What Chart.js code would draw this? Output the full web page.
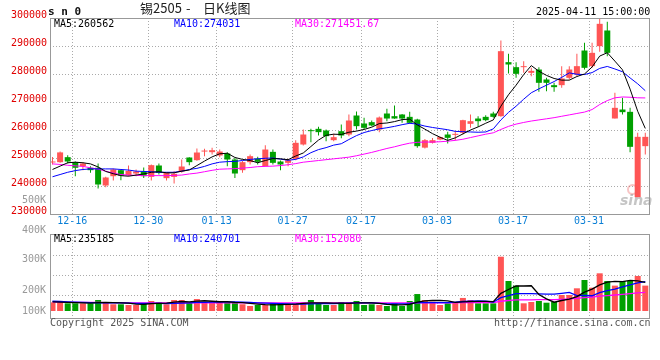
<!DOCTYPE html>
<html lang="zh-CN">
<head>
<meta charset="utf-8">
<title>锡2505 - 日K线图</title>
<script src="https://cdn.jsdelivr.net/npm/chart.js@4.4.1/dist/chart.umd.min.js"></script>
<style>
html,body{margin:0;padding:0;background:#fff;}
#wrap{position:relative;width:660px;height:360px;overflow:hidden;background:#fff;}
#wrap canvas{position:absolute;left:0;top:0;}
.t{position:absolute;white-space:pre;font-family:"DejaVu Sans Mono",monospace;font-size:10px;line-height:10px;}
.cjk{font-family:'Noto Sans CJK SC',sans-serif;font-size:13px;line-height:13px;color:#222;}
</style>
</head>
<body>
<div id="wrap">
  <canvas id="priceChart" width="660" height="360"></canvas>
  <canvas id="volChart" width="660" height="360"></canvas>
  <div class="t" style="left:48px;top:6px;font-size:11px;line-height:11px;font-weight:bold;color:#111;">s n 0</div>
  <div class="t cjk" style="left:140px;top:1px;">锡2505</div>
  <div class="t cjk" style="left:186px;top:1px;">-</div>
  <div class="t cjk" style="left:203px;top:1px;">日K线图</div>
  <div class="t" style="left:536px;top:7px;color:#000;">2025-04-11 15:00:00</div>
  <div class="t" style="left:54px;top:19px;color:#000;">MA5:260562</div>
  <div class="t" style="left:174px;top:19px;color:#0000ff;">MA10:274031</div>
  <div class="t" style="left:295px;top:19px;color:#ff00ff;">MA30:271451.67</div>
  <div class="t" style="left:54px;top:234px;color:#000;">MA5:235185</div>
  <div class="t" style="left:174px;top:234px;color:#0000ff;">MA10:240701</div>
  <div class="t" style="left:295px;top:234px;color:#ff00ff;">MA30:152080</div>
  <div class="t" style="left:22px;top:195px;color:#999;">500K</div>
  <div class="t" style="left:22px;top:225px;color:#999;">400K</div>
  <div class="t" style="left:22px;top:254px;color:#999;">300K</div>
  <div class="t" style="left:22px;top:285px;color:#999;">200K</div>
  <div class="t" style="left:22px;top:306px;color:#999;">100K</div>
  <div class="t" style="left:50px;top:318px;color:#555;">Copyright 2025 SINA.COM</div>
  <div class="t" style="left:494px;top:318px;color:#555;">http://finance.sina.com.cn</div>
  <div style="position:absolute;left:627px;top:184px;width:7px;height:7px;border:2px solid rgba(235,90,90,0.35);border-radius:50%;"></div>
  <div class="t" style="left:620px;top:193px;font-family:'DejaVu Sans',sans-serif;font-style:italic;font-weight:bold;font-size:14px;line-height:14px;color:rgba(150,150,150,0.55);">sina</div>
</div>
<script>
// ---- data ----
const dates = ['12-12','12-13','12-16','12-17','12-18','12-19','12-20','12-23','12-24','12-25',
'12-26','12-27','12-30','12-31','01-02','01-03','01-06','01-07','01-08','01-09',
'01-10','01-13','01-14','01-15','01-16','01-17','01-20','01-21','01-22','01-23',
'01-24','01-27','02-05','02-06','02-07','02-10','02-11','02-12','02-13','02-14',
'02-17','02-18','02-19','02-20','02-21','02-24','02-25','02-26','02-27','02-28',
'03-03','03-04','03-05','03-06','03-07','03-10','03-11','03-12','03-13','03-14',
'03-17','03-18','03-19','03-20','03-21','03-24','03-25','03-26','03-27','03-28',
'03-31','04-01','04-02','04-03','04-07','04-08','04-09','04-10','04-11'];
const tickDays = ['12-16','12-30','01-13','01-27','02-17','03-03','03-17','03-31'];
const priceTicks = [230000,240000,250000,260000,270000,280000,290000,300000];

const openP = [248400,248500,250300,248500,247080,246500,246500,240180,243500,245650,
243870,244460,245180,243270,247320,242800,243270,245180,250180,249230,
252300,252080,250890,251610,249460,245650,248510,249820,247080,252200,
248750,248270,249700,254820,259940,260420,259820,256370,259580,258390,
265180,262320,262800,260180,265890,264940,265540,264700,263750,253700,
255420,256600,258390,258270,258990,262200,264100,264700,265890,264940,
284230,282440,282440,280420,281600,278040,276010,276010,278630,279820,
288390,282800,289940,295540,264110,267320,266490,236000,254230];
const highP = [250400,252300,251000,248750,248500,247080,248040,243300,246250,246000,
247320,245900,246600,247680,248040,245000,245300,249460,250300,253400,
253270,253630,253000,252080,250060,248900,251250,250420,254580,253030,
249100,249700,256370,260180,260420,261130,260180,258630,261960,265540,
266610,264350,263390,264800,267560,268750,265700,266490,263990,256800,
257100,257700,259350,259580,263700,265540,264940,265300,266490,291960,
287200,284230,284580,282200,282440,278630,276850,282800,282800,287200,
291130,291130,300000,298630,273270,271490,267920,258990,258990];
const lowP = [247700,248300,248000,243500,245650,244700,239100,239580,241960,242080,
243500,243500,242900,241960,244100,241960,240900,244700,247440,248990,
250650,251250,250300,247080,242900,244700,247680,247680,247000,247680,
245650,247080,249220,254460,255650,258030,256010,256010,257080,257800,
260180,260180,261370,259230,263150,263990,262560,262200,253630,253400,
255200,256370,255180,256250,258390,260770,261130,263150,264340,264700,
280180,278630,280420,279220,273630,273870,273630,275060,278040,279220,
281610,282200,287920,286370,264110,265540,252080,236000,251250];
const closeP = [248700,252000,248750,246500,248040,245650,240540,243040,245900,243750,
245400,245180,243500,247440,244700,244700,244350,246960,248510,251960,
252450,252800,252320,249460,244460,248510,250650,248630,253030,248270,
247680,249220,255420,258390,259580,259230,257800,257440,258030,263390,
261370,260770,261610,264460,264100,264100,264100,262560,254230,256370,
256370,257440,257200,258510,263510,263150,263150,263510,264700,288155,
283390,280060,282680,281130,276850,276850,275300,278390,281610,282800,
282200,287560,297920,287560,267920,266370,253990,257560,257560];

const ma5 = [245900,247100,248300,248500,248300,247900,246800,245200,244400,243700,
243500,243900,244300,244900,245100,244700,244700,245300,245700,247300,
248900,250400,251500,251700,250200,249500,249100,248300,249100,249800,
249700,249400,250700,251800,254100,256400,258100,258500,258400,259200,
259600,260200,261000,262300,262500,263000,263700,263900,261800,260300,
258700,257400,256300,257200,258600,260000,261100,262400,263600,268500,
272600,276000,279800,283000,281000,279500,278400,277800,277800,279100,
280000,282500,286400,287600,284600,281500,274600,266700,260562];
const ma10 = [243300,244100,244900,245500,245900,246100,246100,246100,246100,245900,
245700,245300,245200,245100,244900,244900,244900,245300,245900,246300,
247000,247900,248500,248700,248800,249100,249500,249700,249900,250000,
249600,249200,249500,250400,251900,253000,253700,254600,255100,256600,
258000,259100,259800,260400,260800,261300,261900,262400,262100,261400,
260900,260500,260100,259500,259400,259300,259200,259300,260400,263600,
266300,268500,271000,273300,274700,276000,277300,278800,280400,279900,
279800,280500,282000,282700,281800,280800,278600,276500,274031];
const ma30 = [247900,247700,247400,247200,247000,246500,246000,245300,244600,244100,
243900,243800,243700,243700,243700,243700,243800,243900,244300,244600,
245100,245600,246000,246100,246200,246400,246600,246900,247000,247100,
247300,247600,248000,248500,248800,249100,249400,249700,250000,250300,
250800,251400,252000,252700,253400,254000,254700,255300,255600,255700,
255700,255800,256000,256300,256700,257300,257900,258500,259000,260200,
261300,262100,262700,263200,263600,264000,264400,264900,265400,265900,
266400,267300,269100,270500,271500,271800,271700,271500,271451.67];

// volume, in thousands
const volK = [71,71,63,63,63,63,90,71,55,55,
49,49,63,82,71,55,90,90,71,98,
71,71,71,71,71,55,41,49,49,63,
63,49,63,71,90,63,49,49,74,74,
82,49,55,49,41,63,41,82,139,90,
76,49,63,74,107,90,63,63,63,445,
246,208,63,74,82,68,74,131,131,186,
254,191,309,246,208,246,246,287,208];
const vma5K = [74,73,70,68,66,65,68,70,68,67,
64,56,54,60,63,64,72,78,75,81,
84,80,76,76,71,68,62,57,53,51,
53,55,57,62,67,67,67,64,65,62,
66,66,67,62,55,51,50,55,73,83,
86,87,83,70,74,77,79,79,77,145,
176,205,205,207,135,99,72,86,97,118,
155,179,214,237,242,240,251,247,235.185];
const vma10K = [80,78,75,72,70,68,67,67,66,66,
64,63,62,62,62,61,62,64,66,70,
71,72,73,74,75,73,70,67,65,63,
60,58,57,57,59,60,61,61,63,65,
66,66,66,63,59,59,58,61,68,69,
69,69,69,72,78,81,83,81,74,109,
126,142,142,142,140,138,139,145,152,126,
127,125,150,167,180,198,215,230,240.701];
const vma30K = [72,72,71,71,70,70,70,69,69,68,
67,67,67,66,66,66,66,66,66,66,
66,66,66,66,66,66,66,66,66,66,
66,66,66,66,66,66,66,66,66,66,
66,66,66,66,66,66,66,66,67,67,
67,67,67,67,68,68,68,68,68,80,
86,91,91,92,93,93,94,96,99,103,
109,114,122,126,131,137,142,148,152.08];

// ---- chart building ----
const N = dates.length;
const idx = dates.map((_, i) => i);
const UP = '#ff5555', DOWN = '#00a000';
const colors = idx.map(i => closeP[i] >= openP[i] ? UP : DOWN);
const tickIdx = tickDays.map(d => dates.indexOf(d));
const X_MIN = -0.33, X_MAX = N - 1 + 0.62, GRID_SHIFT = 0.6;
const MONO = {family: 'DejaVu Sans Mono', size: 10};
const VOL_BASE_PX = 311, VOL_TOP = 234, VOL_BOTTOM = 318, PX_PER_100K = 12.2;
const VOL_MAX = (VOL_BASE_PX - VOL_TOP) / PX_PER_100K * 100000;
const VOL_MIN = -(VOL_BOTTOM - VOL_BASE_PX) / PX_PER_100K * 100000;
const volGridPx = [255.7, 275.7, 295.7];
const volGrid = volGridPx.map(p => (VOL_BASE_PX - p) / PX_PER_100K * 100000);

Chart.defaults.font.family = 'DejaVu Sans Mono';
Chart.defaults.font.size = 10;

function xAxis(showLabels) {
  return {
    type: 'linear', min: X_MIN, max: X_MAX, offset: false,
    afterBuildTicks: s => { s.ticks = tickIdx.map(i => ({value: i + GRID_SHIFT})); },
    grid: {color: '#aaaaaa', lineWidth: 1, drawTicks: false, offset: false},
    border: {display: false, dash: [1, 2]},
    ticks: {
      display: showLabels, autoSkip: false, maxRotation: 0, minRotation: 0, padding: 1,
      color: '#0a7fd6', font: MONO,
      callback: v => { const k = tickIdx.indexOf(Math.round(v - GRID_SHIFT)); return k >= 0 ? tickDays[k] : ''; }
    },
    afterFit: s => { s.height = showLabels ? 20 : 0; }
  };
}

const framePlugin = {
  id: 'frame',
  afterDraw(chart) {
    const a = chart.chartArea, ctx = chart.ctx;
    ctx.save();
    ctx.strokeStyle = '#999999';
    ctx.lineWidth = 1;
    ctx.strokeRect(Math.round(a.left) + 0.5, Math.round(a.top) + 0.5,
                   Math.round(a.right - a.left) - 1, Math.round(a.bottom - a.top));
    ctx.restore();
  }
};

const line = (arr, color, scale, width) => ({
  type: 'line', data: idx.map(i => ({x: i, y: arr[i] * scale})),
  borderColor: color, borderWidth: width, pointRadius: 0, tension: 0, fill: false, order: 0
});

new Chart(document.getElementById('priceChart'), {
  type: 'bar',
  data: {datasets: [
    line(ma5, '#000000', 1, 1),
    line(ma10, '#0000ff', 1, 1),
    line(ma30, '#ff00ff', 1, 1),
    {data: idx.map(i => ({x: i, y: [openP[i], closeP[i]]})), backgroundColor: colors,
     barThickness: 6, minBarLength: 1, grouped: false, order: 1, inflateAmount: 0},
    {data: idx.map(i => ({x: i, y: [lowP[i], highP[i]]})), backgroundColor: colors,
     barThickness: 1, grouped: false, order: 2, inflateAmount: 0}
  ]},
  options: {
    responsive: false, animation: false, devicePixelRatio: 1,
    layout: {padding: {left: 0, right: 10, top: 18, bottom: 126}},
    plugins: {legend: {display: false}, tooltip: {enabled: false}},
    scales: {
      x: xAxis(true),
      y: {
        type: 'linear', min: priceTicks[0], max: priceTicks[priceTicks.length - 1],
        afterBuildTicks: s => { s.ticks = priceTicks.map(v => ({value: v})); },
        grid: {color: '#aaaaaa', lineWidth: 1, drawTicks: false},
        border: {display: false, dash: [1, 2]},
        ticks: {color: '#e00000', padding: 3, labelOffset: -2.5, font: MONO, callback: v => String(v)},
        afterFit: s => { s.width = 50; }
      }
    }
  },
  plugins: [framePlugin]
});

new Chart(document.getElementById('volChart'), {
  type: 'bar',
  data: {datasets: [
    line(vma5K, '#000000', 1000, 1.3),
    line(vma10K, '#0000ff', 1000, 1.3),
    line(vma30K, '#ff00ff', 1000, 1.3),
    {data: idx.map(i => ({x: i, y: volK[i] * 1000})), backgroundColor: colors,
     barThickness: 6, grouped: false, order: 1, inflateAmount: 0}
  ]},
  options: {
    responsive: false, animation: false, devicePixelRatio: 1,
    layout: {padding: {left: 0, right: 10, top: VOL_TOP, bottom: 360 - VOL_BOTTOM}},
    plugins: {legend: {display: false}, tooltip: {enabled: false}},
    scales: {
      x: xAxis(false),
      y: {
        type: 'linear', min: VOL_MIN, max: VOL_MAX,
        afterBuildTicks: s => { s.ticks = volGrid.map(v => ({value: v})); },
        grid: {color: '#aaaaaa', lineWidth: 1, drawTicks: false},
        border: {display: false, dash: [1, 2]},
        ticks: {display: false},
        afterFit: s => { s.width = 50; }
      }
    }
  },
  plugins: [framePlugin]
});
</script>
</body>
</html>
